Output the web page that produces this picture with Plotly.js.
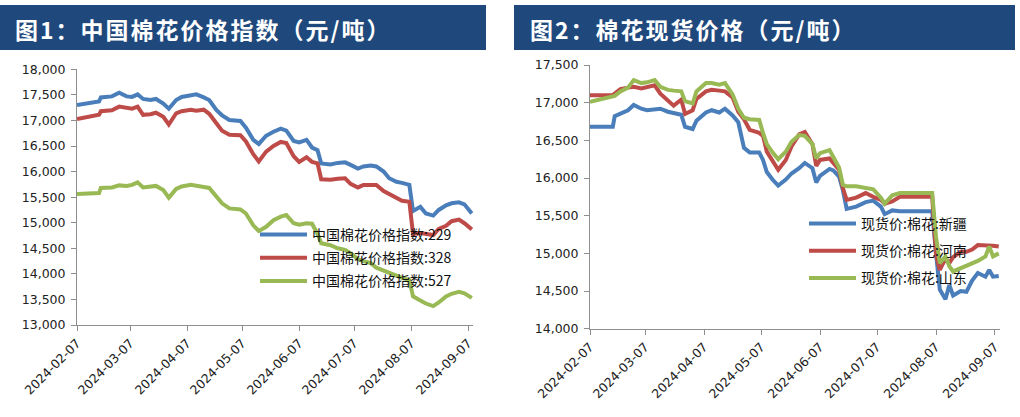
<!DOCTYPE html>
<html>
<head>
<meta charset="utf-8">
<script src="https://cdn.plot.ly/plotly-3.0.1.min.js"></script>
<style>
html,body{margin:0;padding:0;background:#fff;}
#chart{width:1020px;height:417px;}
#chart .annotation-text{letter-spacing:2px;}
</style>
</head>
<body>
<div id="chart"></div>
<script>
// ---------- Figure 1: China Cotton Index ----------
const idxDates = ['2024-02-07','2024-02-19','2024-02-20','2024-02-26','2024-03-01','2024-03-05','2024-03-08','2024-03-11','2024-03-14','2024-03-18','2024-03-21','2024-03-25','2024-03-28','2024-04-01','2024-04-04','2024-04-09','2024-04-12','2024-04-16','2024-04-19','2024-04-23','2024-04-26','2024-04-30','2024-05-06','2024-05-09','2024-05-13','2024-05-16','2024-05-20','2024-05-24','2024-05-28','2024-05-31','2024-06-04','2024-06-07','2024-06-11','2024-06-14','2024-06-17','2024-06-19','2024-06-24','2024-06-28','2024-07-02','2024-07-05','2024-07-09','2024-07-12','2024-07-16','2024-07-19','2024-07-23','2024-07-26','2024-07-30','2024-08-02','2024-08-06','2024-08-08','2024-08-12','2024-08-15','2024-08-19','2024-08-22','2024-08-26','2024-08-29','2024-09-02','2024-09-05','2024-09-09'];
const cci229 = [17300,17370,17450,17470,17540,17470,17460,17510,17420,17400,17420,17330,17230,17400,17460,17500,17510,17450,17400,17200,17100,17010,16990,16860,16620,16540,16700,16780,16840,16800,16600,16570,16620,16470,16420,16160,16140,16170,16180,16130,16060,16100,16120,16100,16000,15870,15800,15780,15740,15230,15310,15180,15140,15250,15340,15380,15400,15360,15180];
const cci328 = [17030,17110,17180,17200,17270,17240,17230,17270,17110,17120,17150,17070,16920,17140,17180,17210,17190,17210,17130,16940,16800,16720,16710,16590,16340,16200,16390,16500,16580,16560,16300,16190,16280,16190,16160,15850,15840,15860,15870,15760,15690,15740,15750,15740,15620,15560,15470,15430,15410,14780,14800,14790,14760,14880,14940,15030,15060,14990,14870];
const cci527 = [15560,15580,15680,15690,15730,15720,15740,15790,15690,15700,15720,15640,15490,15660,15710,15740,15730,15700,15680,15500,15380,15280,15260,15180,14950,14840,14920,15050,15120,15150,14990,14960,14990,14980,14780,14600,14560,14500,14470,14400,14290,14250,14210,14120,14060,14010,13950,13920,13880,13560,13480,13420,13370,13440,13560,13610,13650,13620,13530];
const idxNames = ['中国棉花价格指数:229','中国棉花价格指数:328','中国棉花价格指数:527'];

// ---------- Figure 2: Cotton spot prices ----------
const spotDates = ['2024-02-07','2024-02-19','2024-02-20','2024-02-23','2024-02-27','2024-03-01','2024-03-05','2024-03-08','2024-03-12','2024-03-15','2024-03-19','2024-03-22','2024-03-26','2024-03-28','2024-04-01','2024-04-03','2024-04-08','2024-04-11','2024-04-15','2024-04-18','2024-04-22','2024-04-25','2024-04-28','2024-05-01','2024-05-06','2024-05-08','2024-05-10','2024-05-13','2024-05-16','2024-05-20','2024-05-23','2024-05-27','2024-05-30','2024-06-03','2024-06-05','2024-06-07','2024-06-12','2024-06-14','2024-06-17','2024-06-19','2024-06-21','2024-06-26','2024-07-01','2024-07-05','2024-07-09','2024-07-11','2024-07-15','2024-07-19','2024-07-26','2024-08-02','2024-08-05','2024-08-07','2024-08-09','2024-08-12','2024-08-14','2024-08-16','2024-08-20','2024-08-23','2024-08-26','2024-08-29','2024-09-02','2024-09-04','2024-09-06','2024-09-09'];
const spotXinjiang = [16680,16680,16820,16860,16900,16970,16920,16900,16910,16920,16880,16860,16840,16680,16650,16760,16870,16900,16870,16920,16830,16740,16400,16340,16340,16240,16080,15980,15900,15980,16060,16130,16200,16130,15940,16030,16120,16100,16020,15840,15590,15620,15680,15700,15620,15520,15570,15560,15560,15560,15560,15000,14520,14390,14580,14440,14500,14490,14640,14740,14690,14780,14690,14700];
const spotHenan = [17100,17100,17120,17180,17200,17210,17190,17210,17230,17120,17020,16960,17040,16850,16900,17050,17150,17170,17160,17150,17070,16880,16780,16640,16600,16560,16350,16220,16110,16240,16420,16580,16610,16450,16160,16240,16260,16200,16110,15870,15710,15740,15800,15750,15710,15660,15690,15750,15750,15750,15750,14980,14780,14930,14870,14950,15020,15020,15050,15110,15110,15110,15100,15090];
const spotShandong = [17010,17080,17090,17150,17200,17300,17260,17270,17300,17210,17170,17160,17150,17020,16990,17150,17260,17260,17240,17260,17110,16920,16800,16780,16770,16600,16450,16340,16250,16350,16480,16570,16560,16450,16260,16330,16370,16280,16140,15910,15890,15890,15870,15850,15740,15660,15770,15800,15800,15800,15800,15220,14870,14960,14830,14760,14800,14830,14860,14900,14960,15090,14960,15000];
const spotNames = ['现货价:棉花:新疆','现货价:棉花:河南','现货价:棉花:山东'];

// ---------- Shared tick labels ----------
const monthTicks = ['2024-02-07','2024-03-07','2024-04-07','2024-05-07','2024-06-07','2024-07-07','2024-08-07','2024-09-07'];
const titles = ['图1：中国棉花价格指数（元/吨）','图2：棉花现货价格（元/吨）'];

const colors = ['#4A7EBB','#BE4B48','#98B954'];
const W = 1020, H = 417;
const px = v => v / W;
const py = v => 1 - v / H;

function mk(x, y, name, i, xa, ya, lg) {
  return {
    x: x, y: y, name: name, type: 'scatter', mode: 'lines',
    xaxis: xa, yaxis: ya, legend: lg, legendgroup: lg + i,
    line: {color: colors[i], width: 4},
    hoverinfo: 'skip'
  };
}

const traces = [
  mk(idxDates, cci229, idxNames[0], 0, 'x', 'y', 'legend'),
  mk(idxDates, cci328, idxNames[1], 1, 'x', 'y', 'legend'),
  mk(idxDates, cci527, idxNames[2], 2, 'x', 'y', 'legend'),
  mk(spotDates, spotXinjiang, spotNames[0], 0, 'x2', 'y2', 'legend2'),
  mk(spotDates, spotHenan, spotNames[1], 1, 'x2', 'y2', 'legend2'),
  mk(spotDates, spotShandong, spotNames[2], 2, 'x2', 'y2', 'legend2')
];

const tickFont = {family: 'DejaVu Sans', size: 12.5, color: '#222'};
const axisCommon = {
  showgrid: false, zeroline: false, showline: true,
  linecolor: '#8E8E8E', linewidth: 1,
  ticks: 'outside', ticklen: 5, tickwidth: 1, tickcolor: '#8E8E8E',
  tickfont: tickFont, fixedrange: true
};
const xRange = ['2024-02-07', '2024-09-09 16:00'];

const legendCommon = {
  bgcolor: 'rgba(0,0,0,0)', borderwidth: 0,
  font: {family: 'Noto Sans CJK SC', size: 14, color: '#111'},
  itemwidth: 47, traceorder: 'grouped', orientation: 'v',
  xanchor: 'left', yanchor: 'top', itemclick: false, itemdoubleclick: false
};

const layout = {
  width: W, height: H,
  margin: {l: 0, r: 0, t: 0, b: 0},
  paper_bgcolor: '#fff', plot_bgcolor: 'rgba(0,0,0,0)',
  showlegend: true,
  xaxis: Object.assign({}, axisCommon, {
    type: 'date', domain: [px(77), px(473)], range: xRange, anchor: 'y',
    tickmode: 'array', tickvals: monthTicks, ticktext: monthTicks, tickangle: -45
  }),
  yaxis: Object.assign({}, axisCommon, {
    domain: [py(325), py(69.3)], range: [13000, 18000], anchor: 'x',
    tickmode: 'linear', tick0: 13000, dtick: 500, tickformat: ',d', ticklabelstandoff: 3
  }),
  xaxis2: Object.assign({}, axisCommon, {
    type: 'date', domain: [px(590), px(1000)], range: xRange, anchor: 'y2',
    tickmode: 'array', tickvals: monthTicks, ticktext: monthTicks, tickangle: -45
  }),
  yaxis2: Object.assign({}, axisCommon, {
    domain: [py(328.7), py(65)], range: [14000, 17500], anchor: 'x2',
    tickmode: 'linear', tick0: 14000, dtick: 500, tickformat: ',d', ticklabelstandoff: 3
  }),
  legend: Object.assign({}, legendCommon, {x: px(255), y: py(219), tracegroupgap: 2}),
  legend2: Object.assign({}, legendCommon, {x: px(804), y: py(208), tracegroupgap: 6}),
  shapes: [
    {type: 'rect', xref: 'paper', yref: 'paper', x0: px(0), x1: px(486), y0: py(50), y1: py(5),
     fillcolor: '#1F497D', line: {width: 0}, layer: 'below'},
    {type: 'rect', xref: 'paper', yref: 'paper', x0: px(514), x1: px(1015), y0: py(50), y1: py(5),
     fillcolor: '#1F497D', line: {width: 0}, layer: 'below'}
  ],
  annotations: [
    {xref: 'paper', yref: 'paper', x: px(29), y: py(29), xanchor: 'left', yanchor: 'middle',
     text: '<b>' + titles[0] + '</b>', showarrow: false,
     font: {family: 'Noto Sans CJK SC', size: 23, color: '#fff'}},
    {xref: 'paper', yref: 'paper', x: px(542), y: py(29), xanchor: 'left', yanchor: 'middle',
     text: '<b>' + titles[1] + '</b>', showarrow: false,
     font: {family: 'Noto Sans CJK SC', size: 23, color: '#fff'}}
  ]
};

Plotly.newPlot('chart', traces, layout, {staticPlot: true, displayModeBar: false});
</script>
</body>
</html>
